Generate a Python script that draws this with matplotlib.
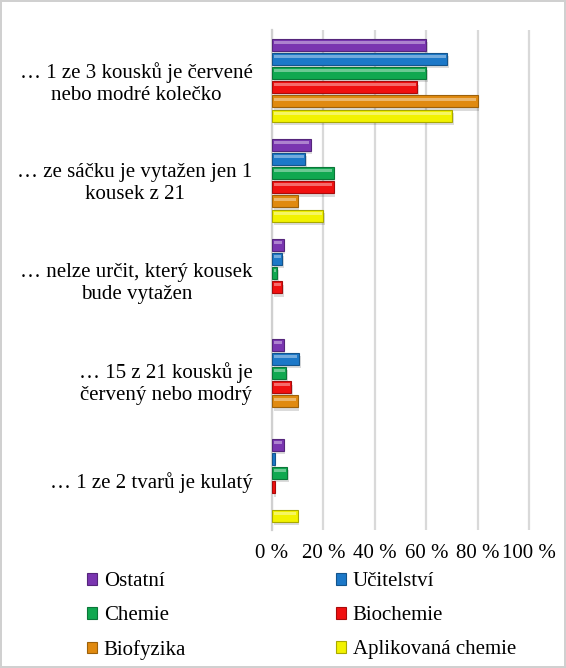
import matplotlib.pyplot as plt
import matplotlib.colors as mcolors
import numpy as np

categories = [
    "… 1 ze 3 kousků je červené\nnebo modré kolečko",
    "… ze sáčku je vytažen jen 1\nkousek z 21",
    "… nelze určit, který kousek\nbude vytažen",
    "… 15 z 21 kousků je\nčervený nebo modrý",
    "… 1 ze 2 tvarů je kulatý",
]
series = ["Ostatní", "Učitelství", "Chemie", "Biochemie", "Biofyzika", "Aplikovaná chemie"]
ostatni = [60, 15, 4.5, 4.5, 4.5]
ucitelstvi = [68, 13, 4, 10.5, 1]
chemie = [60, 24, 2, 5.5, 6]
biochemie = [56.5, 24, 4, 7.5, 1]
biofyzika = [80, 10, 0, 10, 0]
aplikovana = [70, 20, 0, 0, 10]
values = [ostatni, ucitelstvi, chemie, biochemie, biofyzika, aplikovana]
colors = ["#7a35b0", "#1c78c8", "#10a850", "#f01010", "#e08a10", "#f2f200"]
xticks = [0, 20, 40, 60, 80, 100]

plt.rcParams['font.family'] = ['Liberation Serif', 'DejaVu Serif']

fig = plt.figure(figsize=(5.66, 6.68), dpi=100)
fig.patch.set_edgecolor('#d0d0d0')
fig.patch.set_linewidth(1.5)
ax = fig.add_axes([272 / 566, 1 - 530 / 668, 260 / 566, 500 / 668])

slot = 0.142
h = 0.12
y = np.arange(len(categories))
for j, (name, vals, c) in enumerate(zip(series, values, colors)):
    pos = y + (j - 2.5) * slot
    vals = np.array(vals, dtype=float)
    nz = vals > 0
    dark = [v * 0.7 for v in mcolors.to_rgb(c)]
    light = [1 - (1 - v) * 0.45 for v in mcolors.to_rgb(c)]
    # shadow
    ax.barh(pos[nz] + 0.035, vals[nz], height=h, left=0.6, color='#000000',
            alpha=0.14, linewidth=0, zorder=2)
    ax.barh(pos[nz], vals[nz], height=h, color=c, edgecolor=dark,
            linewidth=0.8, zorder=3)
    # highlight stripe
    ax.barh(pos[nz] - 0.022, np.clip(vals[nz] - 1.2, 0, None), height=0.03,
            left=0.6, color=light, linewidth=0, alpha=0.7, zorder=4)
    # legend handle
    ax.barh([np.nan], [0], color=c, edgecolor=dark, linewidth=0.8, label=name)

ax.set_xlim(0, 101)
ax.set_ylim(4.5, -0.5)
ax.set_xticks(xticks)
ax.set_xticklabels([f"{t} %" for t in xticks], fontsize=15)
ax.set_yticks(y)
ax.set_yticklabels(categories, fontsize=15, multialignment='center')
ax.tick_params(axis='y', length=0, pad=14)
ax.tick_params(axis='x', length=0, pad=10)
ax.grid(axis='x', color='#d9d9d9', linewidth=1.6, zorder=0)
ax.set_axisbelow(True)
for s in ['top', 'right', 'bottom']:
    ax.spines[s].set_visible(False)
ax.spines['left'].set_color('#d0d0d0')
ax.spines['left'].set_linewidth(1.6)

handles, labels = ax.get_legend_handles_labels()
order = [0, 2, 4, 1, 3, 5]
fig.legend([handles[i] for i in order], [labels[i] for i in order],
           loc='upper left', bbox_to_anchor=(87 / 566, 1 - 572 / 668),
           ncol=2, frameon=False, fontsize=15, handlelength=0.5,
           handleheight=0.5, handletextpad=0.3, columnspacing=7.2,
           labelspacing=0.72, borderaxespad=0, borderpad=0)

fig.savefig("out.png", dpi=100)
